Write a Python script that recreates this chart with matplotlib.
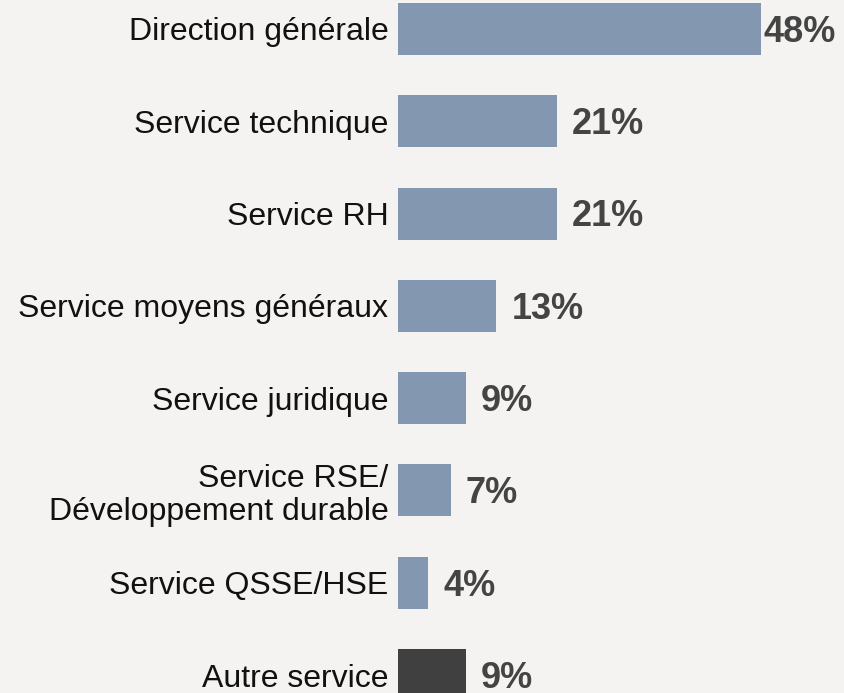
import matplotlib
matplotlib.use("Agg")
import matplotlib.pyplot as plt
from matplotlib.transforms import offset_copy

categories = ["Direction générale", "Service technique", "Service RH",
              "Service moyens généraux", "Service juridique",
              "Service RSE/\nDéveloppement durable", "Service QSSE/HSE",
              "Autre service"]
values = [48, 21, 21, 13, 9, 7, 4, 9]
colors = ["#8497b0"] * 7 + ["#404040"]

W, H, DPI = 844, 693, 100
bg = "#f4f3f1"
fig = plt.figure(figsize=(W / DPI, H / DPI), dpi=DPI, facecolor=bg)
left_px = 398
ax = fig.add_axes([left_px / W, 0, 1 - left_px / W, 1])
ax.set_facecolor(bg)

px_per_unit = 363 / 48
ax.set_xlim(0, (W - left_px) / px_per_unit)
spacing = 92.29
ax.set_ylim(7 + (H - 675) / spacing, -29 / spacing)

ys = list(range(len(values)))
ax.barh(ys, values, height=52 / spacing, color=colors)

for sp in ax.spines.values():
    sp.set_visible(False)
ax.set_xticks([])
ax.set_yticks(ys)
ax.set_yticklabels(categories, fontsize=23, family="Liberation Sans",
                   color="#111111", linespacing=1.12)
ax.tick_params(axis="y", length=0, pad=7)

vfs = 26
cap_px = 0.716 * vfs * DPI / 72
fig.canvas.draw()
renderer = fig.canvas.get_renderer()
for y, v in zip(ys, values):
    t = ax.text(v, y, f"{v}%", fontsize=vfs, fontweight="bold",
                family="Liberation Sans", color="#444444", va="baseline",
                ha="left",
                transform=offset_copy(ax.transData, fig=fig, x=15,
                                      y=-cap_px / 2, units="dots"))
    bb = t.get_window_extent(renderer)
    if bb.x1 > W - 8:
        t.set_transform(offset_copy(ax.transData, fig=fig,
                                    x=15 - (bb.x1 - (W - 8)),
                                    y=-cap_px / 2, units="dots"))

fig.savefig("out.png", dpi=DPI, facecolor=bg)
